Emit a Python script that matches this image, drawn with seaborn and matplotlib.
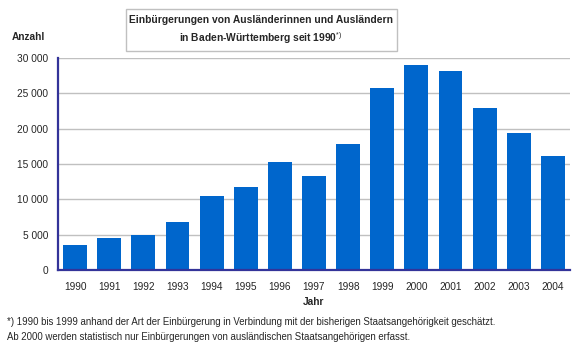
import numpy as np
import pandas as pd
import seaborn as sns
import matplotlib.pyplot as plt
from matplotlib.patches import Rectangle

years = ["1990", "1991", "1992", "1993", "1994", "1995", "1996", "1997",
         "1998", "1999", "2000", "2001", "2002", "2003", "2004"]
einbuergerungen = [3540, 4530, 4960, 6790, 10470, 11750, 15280, 13300,
                   17830, 25760, 29010, 28160, 22920, 19390, 16130]
y_ticks = [0, 5000, 10000, 15000, 20000, 25000, 30000]
y_labels = ["0", "5 000", "10 000", "15 000", "20 000", "25 000", "30 000"]

df = pd.DataFrame({"Jahr": years, "Anzahl": einbuergerungen})

sns.set_style("white")
plt.rcParams["font.family"] = ["Liberation Sans", "DejaVu Sans"]
plt.rcParams["font.size"] = 7
plt.rcParams["mathtext.fontset"] = "custom"
plt.rcParams["mathtext.rm"] = "Liberation Sans"
plt.rcParams["mathtext.bf"] = "Liberation Sans:bold"

axis_col = "#333399"
W, H = 583, 354
fig = plt.figure(figsize=(W / 100, H / 100), dpi=100)
ax = fig.add_axes([58 / W, 1 - 270 / H, (570 - 58) / W, (270 - 58) / H])

sns.barplot(data=df, x="Jahr", y="Anzahl", color="#0066CC", saturation=1,
            width=0.7, linewidth=0, edgecolor="none", ax=ax, zorder=3)

ax.set_xlim(-0.5, len(years) - 0.5)
ax.set_ylim(0, 30000)
ax.set_yticks(y_ticks)
ax.set_yticklabels(y_labels)
ax.yaxis.grid(True, color="#c0c0c0", linewidth=1, zorder=0)
ax.set_axisbelow(True)

for s in ["top", "right"]:
    ax.spines[s].set_visible(False)
for s in ["left", "bottom"]:
    ax.spines[s].set_color(axis_col)
    ax.spines[s].set_linewidth(1.6)
    ax.spines[s].set_zorder(4)

ax.set_xticks(np.arange(-0.5, len(years), 1.0), minor=True)
ax.tick_params(axis="x", which="major", length=0, pad=9, labelsize=7.3)
ax.tick_params(axis="x", which="minor", length=4, width=1.5, color=axis_col,
               direction="out")
ax.tick_params(axis="y", length=4, width=1.5, color=axis_col, direction="out",
               pad=3, labelsize=7.3)

ax.set_xlabel("Jahr", fontweight="bold", fontsize=7.3, labelpad=3)
ax.set_ylabel("")

fig.text(12 / W, 1 - 37 / H, "Anzahl", fontweight="bold", fontsize=7.3,
         va="center", ha="left")

box = Rectangle((126 / W, 1 - 51 / H), (397 - 126) / W, 42 / H,
                transform=fig.transFigure, facecolor="white",
                edgecolor="#c0c0c0", linewidth=1, zorder=5)
fig.patches.append(box)
fig.text(261 / W, 1 - 20 / H, "Einbürgerungen von Ausländerinnen und Ausländern",
         fontweight="bold", fontsize=7.4, ha="center", va="center", zorder=6)
fig.text(261 / W, 1 - 38 / H, r"in Baden-Württemberg seit 1990$^{*)}$",
         fontweight="bold", fontsize=7.4, ha="center", va="center", zorder=6)

fig.text(7 / W, 1 - 322 / H,
         "*) 1990 bis 1999 anhand der Art der Einbürgerung in Verbindung mit der "
         "bisherigen Staatsangehörigkeit geschätzt.",
         fontsize=6.9, ha="left", va="center")
fig.text(7 / W, 1 - 337 / H,
         "Ab 2000 werden statistisch nur Einbürgerungen von ausländischen "
         "Staatsangehörigen erfasst.",
         fontsize=6.9, ha="left", va="center")

fig.savefig("out.png", dpi=100)
